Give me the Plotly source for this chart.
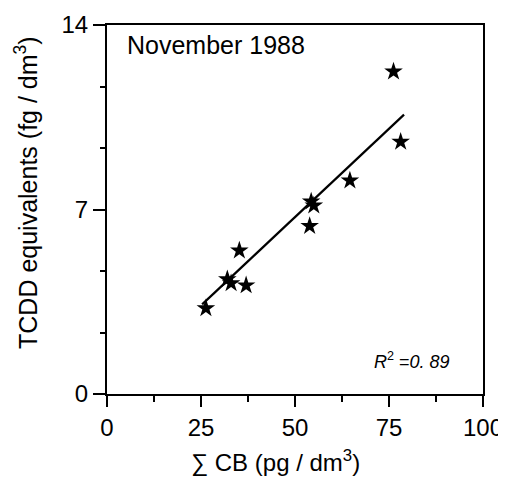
import plotly.graph_objects as go

# Data
cb_sum = [26.3, 32.0, 33.0, 35.2, 37.0, 53.9, 54.3, 55.0, 64.6, 76.2, 78.1]
tcdd_eq = [3.25, 4.35, 4.2, 5.44, 4.12, 6.37, 7.3, 7.15, 8.1, 12.23, 9.57]

fit_x = [25.3, 79.0]
fit_y = [3.4, 10.6]

x_ticks = [0, 25, 50, 75, 100]
y_ticks = [0, 7, 14]
r2_label = "<i>R</i><sup>2</sup> =<i>0. 89</i>"
panel_label = "November 1988"

OFF = 8  # default page body margin
W, H = 506 - OFF, 482 - OFF
# plot area in page pixels: x 107..483, y 25..394
PX0, PX1, PY0, PY1 = 107, 483, 25, 394
L, T = PX0 - OFF, PY0 - OFF
R = W - (PX1 - OFF)
B = H - (PY1 - OFF)
FONT = "Liberation Sans, Arial, sans-serif"

fig = go.Figure()
fig.add_trace(go.Scatter(x=fit_x, y=fit_y, mode="lines",
                         line=dict(color="black", width=2.2), showlegend=False))
fig.add_trace(go.Scatter(x=cb_sum, y=tcdd_eq, mode="markers",
                         marker=dict(symbol="star", size=14, color="black",
                                     line=dict(width=0)),
                         showlegend=False))

def px_to_paper_x(px):
    return (px - PX0) / (PX1 - PX0)

def px_to_paper_y(py):
    return (PY1 - py) / (PY1 - PY0)

fig.add_annotation(text=panel_label, xref="paper", yref="paper",
                   x=px_to_paper_x(125), y=px_to_paper_y(45),
                   xanchor="left", yanchor="middle", showarrow=False,
                   font=dict(family=FONT, size=25, color="black"))
fig.add_annotation(text=r2_label, xref="paper", yref="paper",
                   x=px_to_paper_x(372), y=px_to_paper_y(360),
                   xanchor="left", yanchor="middle", showarrow=False,
                   font=dict(family=FONT, size=18, color="black"))
fig.add_annotation(text="∑ CB (pg / dm<sup>3</sup>)", xref="paper", yref="paper",
                   x=px_to_paper_x(275), y=px_to_paper_y(461),
                   xanchor="center", yanchor="middle", showarrow=False,
                   font=dict(family=FONT, size=24, color="black"))
fig.add_annotation(text="TCDD equivalents (fg / dm<sup>3</sup>)", xref="paper", yref="paper",
                   x=px_to_paper_x(26), y=px_to_paper_y(193),
                   xanchor="center", yanchor="middle", textangle=-90, showarrow=False,
                   font=dict(family=FONT, size=25, color="black"))

fig.update_xaxes(range=[0, 100], tickvals=x_ticks, ticktext=[str(v) for v in x_ticks],
                 automargin=False,
                 showgrid=False, zeroline=False, showline=True, linecolor="black",
                 linewidth=2, mirror=True, ticks="outside", ticklen=11, tickwidth=2,
                 tickcolor="black", tickfont=dict(family=FONT, size=24, color="black"),
                 minor=dict(dtick=12.5, tick0=0, ticks="outside", ticklen=6,
                            tickwidth=2, tickcolor="black"))
fig.update_yaxes(range=[0, 14], tickvals=y_ticks, ticktext=[str(v) for v in y_ticks],
                 automargin=False,
                 showgrid=False, zeroline=False, showline=True, linecolor="black",
                 linewidth=2, mirror=True, ticks="outside", ticklen=12, tickwidth=2,
                 tickcolor="black", tickfont=dict(family=FONT, size=24, color="black"),
                 minor=dict(dtick=14 / 6, tick0=0, ticks="outside", ticklen=5,
                            tickwidth=2, tickcolor="black"))

fig.update_layout(width=W, height=H, margin=dict(l=L, r=R, t=T, b=B),
                  paper_bgcolor="white", plot_bgcolor="white",
                  font=dict(family=FONT, color="black"))

fig.write_html("out.html")
